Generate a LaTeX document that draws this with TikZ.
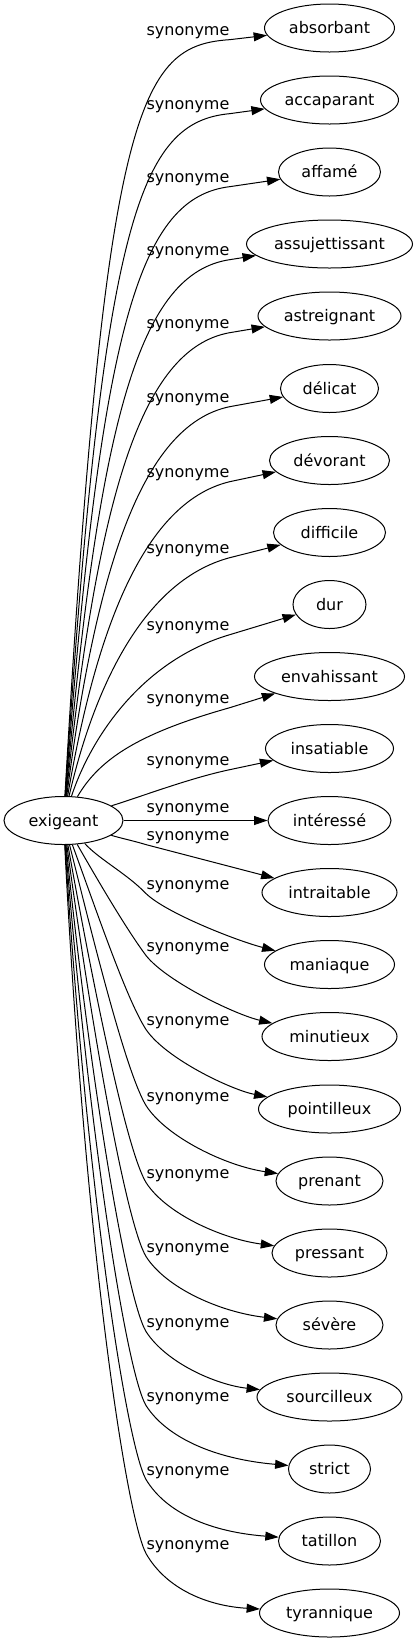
\documentclass[tikz,border=0pt]{standalone}
\usepackage{fontspec}
\setmainfont{DejaVu Sans}
\usetikzlibrary{arrows.meta,shapes.geometric}

\tikzset{every picture/.style={line width=0.75pt}}
\tikzset{
  word/.style={draw, ellipse, minimum height=36pt, inner sep=0pt, text height=9.5pt, text depth=1pt, font=\fontsize{12}{14}\selectfont},
  lbl/.style={inner sep=0pt, font=\fontsize{12}{14}\selectfont},
  link/.style={-{Triangle[length=10pt,width=6.7pt]}}
}

\begin{document}
\begin{tikzpicture}[x=0.75pt,y=0.75pt,yscale=-1,xscale=1]
\useasboundingbox (0,0) rectangle (417,1643);

%Shape: Ellipse [id:exigeant]
\draw (63.5,820.5) node [word, minimum width=89.25pt] (exigeant) {exigeant};

%Shape: Ellipse [id:targets]
\draw (329.5,28) node [word, minimum width=97.5pt] (absorbant) {absorbant};
\draw (329.5,100) node [word, minimum width=103.5pt] (accaparant) {accaparant};
\draw (329.5,172) node [word, minimum width=76.5pt] (affame) {affamé};
\draw (329.5,244) node [word, minimum width=124.5pt] (assujettissant) {assujettissant};
\draw (329.5,316) node [word, minimum width=107.25pt] (astreignant) {astreignant};
\draw (329.5,388.5) node [word, minimum width=73.5pt] (delicat) {délicat};
\draw (329.5,460.5) node [word, minimum width=90pt] (devorant) {dévorant};
\draw (329.5,532.5) node [word, minimum width=84pt] (difficile) {difficile};
\draw (329.5,604.5) node [word, minimum width=54.75pt] (dur) {dur};
\draw (329.5,676.5) node [word, minimum width=112.5pt] (envahissant) {envahissant};
\draw (329.5,748.5) node [word, minimum width=96pt] (insatiable) {insatiable};
\draw (329.5,820.5) node [word, minimum width=92.25pt] (interesse) {intéressé};
\draw (329.5,892.5) node [word, minimum width=101.25pt] (intraitable) {intraitable};
\draw (329.5,964.5) node [word, minimum width=97.5pt] (maniaque) {maniaque};
\draw (329.5,1036.5) node [word, minimum width=101.25pt] (minutieux) {minutieux};
\draw (329.5,1109) node [word, minimum width=106.5pt] (pointilleux) {pointilleux};
\draw (329.5,1181) node [word, minimum width=80.25pt] (prenant) {prenant};
\draw (329.5,1253) node [word, minimum width=86.25pt] (pressant) {pressant};
\draw (329.5,1325) node [word, minimum width=80.25pt] (severe) {sévère};
\draw (329.5,1397) node [word, minimum width=108.75pt] (sourcilleux) {sourcilleux};
\draw (329.5,1469) node [word, minimum width=61.5pt] (strict) {strict};
\draw (329.5,1541) node [word, minimum width=76.5pt] (tatillon) {tatillon};
\draw (329.5,1613) node [word, minimum width=105pt] (tyrannique) {tyrannique};

% Text Node
\draw (188,33) node [lbl] (l-absorbant) {synonyme};
\draw (188,107) node [lbl] (l-accaparant) {synonyme};
\draw (188,180) node [lbl] (l-affame) {synonyme};
\draw (188,253) node [lbl] (l-assujettissant) {synonyme};
\draw (188,326) node [lbl] (l-astreignant) {synonyme};
\draw (188,400) node [lbl] (l-delicat) {synonyme};
\draw (188,475) node [lbl] (l-devorant) {synonyme};
\draw (188,551) node [lbl] (l-difficile) {synonyme};
\draw (188,628) node [lbl] (l-dur) {synonyme};
\draw (188,701) node [lbl] (l-envahissant) {synonyme};
\draw (188,763) node [lbl] (l-insatiable) {synonyme};
\draw (188,810) node [lbl] (l-interesse) {synonyme};
\draw (188,838) node [lbl] (l-intraitable) {synonyme};
\draw (188,887) node [lbl] (l-maniaque) {synonyme};
\draw (188,949) node [lbl] (l-minutieux) {synonyme};
\draw (188,1023) node [lbl] (l-pointilleux) {synonyme};
\draw (188,1099) node [lbl] (l-prenant) {synonyme};
\draw (188,1176) node [lbl] (l-pressant) {synonyme};
\draw (188,1250) node [lbl] (l-severe) {synonyme};
\draw (188,1325) node [lbl] (l-sourcilleux) {synonyme};
\draw (188,1399) node [lbl] (l-strict) {synonyme};
\draw (188,1473) node [lbl] (l-tatillon) {synonyme};
\draw (188,1547) node [lbl] (l-tyrannique) {synonyme};

%Curve Lines [id:upper]
\draw [link] (exigeant) .. controls (105,101) and (140,45.6) .. (l-absorbant.south east) -- (absorbant);
\draw [link] (exigeant) .. controls (103,217) and (140,122) .. (l-accaparant.south east) -- (accaparant);
\draw [link] (exigeant) .. controls (101,322) and (140,197.5) .. (l-affame.south east) -- (affame);
\draw [link] (exigeant) .. controls (99.5,416) and (140,273) .. (l-assujettissant.south east) -- (assujettissant);
\draw [link] (exigeant) .. controls (97.5,500.5) and (140,348.5) .. (l-astreignant.south east) -- (astreignant);
\draw [link] (exigeant) .. controls (95.5,575.5) and (140,425) .. (l-delicat.south east) -- (delicat);
\draw [link] (exigeant) .. controls (94,641) and (140,503) .. (l-devorant.south east) -- (devorant);
\draw [link] (exigeant) .. controls (92,696) and (140,581.5) .. (l-difficile.south east) -- (difficile);
\draw [link] (exigeant) .. controls (90,740) and (140,661) .. (l-dur.south east) -- (dur);
\draw [link] (exigeant) .. controls (100,758) and (140,733) .. (l-envahissant.south east) -- (envahissant);
\draw [link] (exigeant) .. controls (140,797) and (190,778) .. (l-insatiable.south east) -- (insatiable);

%Straight Lines [id:middle]
\draw [link] (exigeant) -- (interesse);

%Curve Lines [id:lower]
\draw [link] (exigeant) .. controls (120,838) and (135,841.2) .. (l-intraitable.south west) -- (intraitable);
\draw [link] (exigeant) .. controls (100,860) and (126.5,873.3) .. (l-maniaque.south west) .. controls (166.5,913.3) and (237.5,941) .. (maniaque);
\draw [link] (exigeant) .. controls (98.5,881.5) and (126.5,929.3) .. (l-minutieux.south west) .. controls (166.5,981.3) and (235,1014.5) .. (minutieux);
\draw [link] (exigeant) .. controls (97,912) and (126.5,999.3) .. (l-pointilleux.south west) .. controls (166.5,1059.3) and (232,1090) .. (pointilleux);
\draw [link] (exigeant) .. controls (95,947) and (126.5,1073.3) .. (l-prenant.south west) .. controls (166.5,1137.3) and (226,1166) .. (prenant);
\draw [link] (exigeant) .. controls (93.5,988) and (126.5,1150.3) .. (l-pressant.south west) .. controls (166.5,1214.3) and (223,1239) .. (pressant);
\draw [link] (exigeant) .. controls (92,1031) and (126.5,1224.3) .. (l-severe.south west) .. controls (166.5,1288.3) and (220,1312) .. (severe);
\draw [link] (exigeant) .. controls (90,1080) and (126.5,1299.3) .. (l-sourcilleux.south west) .. controls (166.5,1363.3) and (217,1385) .. (sourcilleux);
\draw [link] (exigeant) .. controls (88.5,1131.5) and (126.5,1373.3) .. (l-strict.south west) .. controls (166.5,1437.3) and (214,1459) .. (strict);
\draw [link] (exigeant) .. controls (86.5,1188) and (126.5,1445.3) .. (l-tatillon.south west) .. controls (166.5,1513.3) and (211,1532) .. (tatillon);
\draw [link] (exigeant) .. controls (85,1248.5) and (126.5,1517.3) .. (l-tyrannique.south west) .. controls (166.5,1589.3) and (208,1606) .. (tyrannique);

\end{tikzpicture}
\end{document}
